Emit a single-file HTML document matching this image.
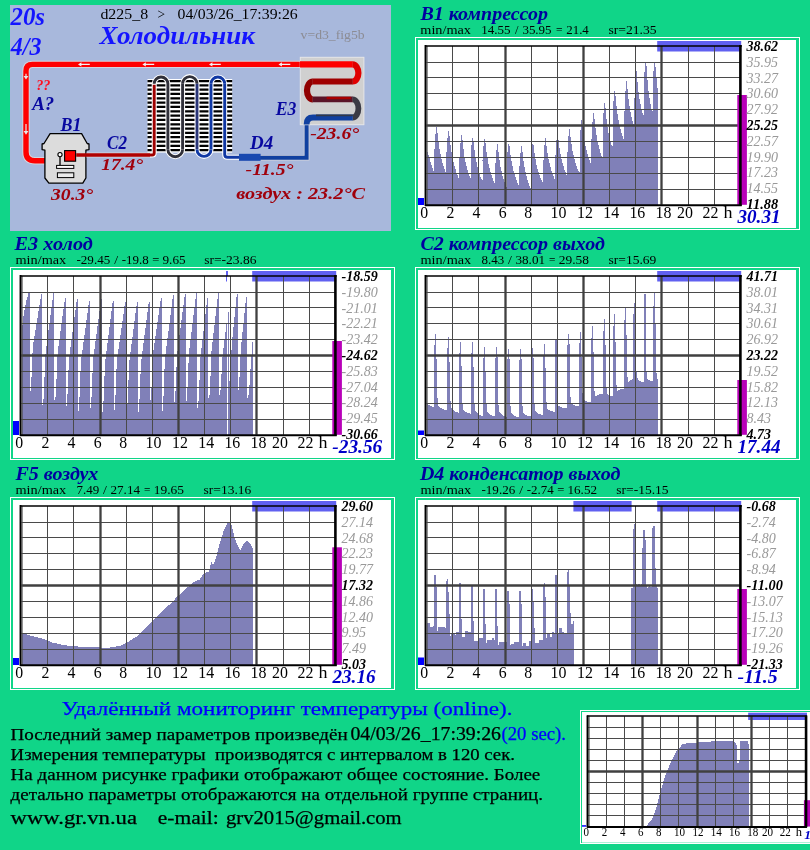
<!DOCTYPE html>
<html lang="ru"><head><meta charset="utf-8"><title>Холодильник</title>
<style>html,body{margin:0;padding:0;background:#10D588}body{width:810px;height:850px;overflow:hidden}svg{display:block;will-change:transform}text{font-family:"Liberation Serif",serif}</style></head><body>
<svg width="810" height="850" viewBox="0 0 810 850">
<rect width="810" height="850" fill="#10D588"/>
<rect x="10" y="5" width="381" height="226" fill="#A8B8DC"/>
<text x="10.5" y="25.0" font-size="25" fill="#1414FF" font-weight="bold" font-style="italic" textLength="34.5" lengthAdjust="spacingAndGlyphs" xml:space="preserve">20s</text>
<text x="10.8" y="54.6" font-size="25" fill="#1414FF" font-weight="bold" font-style="italic" textLength="30.7" lengthAdjust="spacingAndGlyphs" xml:space="preserve">4/3</text>
<text x="100.4" y="19.3" font-size="15" fill="#000" textLength="47.7" lengthAdjust="spacingAndGlyphs" xml:space="preserve">d225_8</text>
<text x="157.4" y="19.3" font-size="15" fill="#000" textLength="7.6" lengthAdjust="spacingAndGlyphs" xml:space="preserve">&gt;</text>
<text x="177.6" y="19.3" font-size="15" fill="#000" textLength="120.1" lengthAdjust="spacingAndGlyphs" xml:space="preserve">04/03/26_17:39:26</text>
<text x="99.5" y="44.4" font-size="26" fill="#1414FF" font-weight="bold" font-style="italic" textLength="155.5" lengthAdjust="spacingAndGlyphs" xml:space="preserve">Холодильник</text>
<text x="300.6" y="38.9" font-size="13" fill="#8c8c94" textLength="64.0" lengthAdjust="spacingAndGlyphs" xml:space="preserve">v=d3_fig5b</text>
<text x="36.2" y="90.0" font-size="15" fill="#FF1020" font-weight="bold" font-style="italic" textLength="14.3" lengthAdjust="spacingAndGlyphs" xml:space="preserve">??</text>
<text x="32.2" y="110.0" font-size="19" fill="#0808A0" font-weight="bold" font-style="italic" textLength="22.0" lengthAdjust="spacingAndGlyphs" xml:space="preserve">A?</text>
<text x="60.4" y="131.4" font-size="19" fill="#0808A0" font-weight="bold" font-style="italic" textLength="21.0" lengthAdjust="spacingAndGlyphs" xml:space="preserve">B1</text>
<text x="107.0" y="149.3" font-size="19" fill="#0808A0" font-weight="bold" font-style="italic" textLength="20.0" lengthAdjust="spacingAndGlyphs" xml:space="preserve">C2</text>
<text x="275.8" y="115.0" font-size="19" fill="#0808A0" font-weight="bold" font-style="italic" textLength="20.6" lengthAdjust="spacingAndGlyphs" xml:space="preserve">E3</text>
<text x="250.0" y="149.4" font-size="19" fill="#0808A0" font-weight="bold" font-style="italic" textLength="23.2" lengthAdjust="spacingAndGlyphs" xml:space="preserve">D4</text>
<text x="101.2" y="169.6" font-size="17.2" fill="#A0000C" font-weight="bold" font-style="italic" textLength="42.0" lengthAdjust="spacingAndGlyphs" xml:space="preserve">17.4°</text>
<text x="51.0" y="199.5" font-size="17.2" fill="#A0000C" font-weight="bold" font-style="italic" textLength="42.2" lengthAdjust="spacingAndGlyphs" xml:space="preserve">30.3°</text>
<text x="310.2" y="139.3" font-size="17.2" fill="#A0000C" font-weight="bold" font-style="italic" textLength="49.0" lengthAdjust="spacingAndGlyphs" xml:space="preserve">-23.6°</text>
<text x="245.6" y="174.6" font-size="17.2" fill="#A0000C" font-weight="bold" font-style="italic" textLength="47.8" lengthAdjust="spacingAndGlyphs" xml:space="preserve">-11.5°</text>
<text x="236.2" y="199.3" font-size="17.2" fill="#A0000C" font-weight="bold" font-style="italic" textLength="128.8" lengthAdjust="spacingAndGlyphs" xml:space="preserve">воздух : 23.2°C</text>
<path d="M300 64.4H32.5Q26 64.4 26 71V152Q26 160.7 35 160.7H46" fill="none" stroke="#d4d4dc" stroke-width="7.4" stroke-linejoin="round"/>
<path d="M300 64.4H32.5Q26 64.4 26 71V152Q26 160.7 35 160.7H46" fill="none" stroke="#FF0000" stroke-width="5.4" stroke-linejoin="round"/>
<path d="M78.0 64.4l3.4 -2.2v1.6h8.4v1.2h-8.4v1.6z" fill="#f4f4f4"/>
<path d="M142.4 64.4l3.4 -2.2v1.6h8.4v1.2h-8.4v1.6z" fill="#f4f4f4"/>
<path d="M209.0 64.4l3.4 -2.2v1.6h8.4v1.2h-8.4v1.6z" fill="#f4f4f4"/>
<path d="M278.5 64.4l3.4 -2.2v1.6h8.4v1.2h-8.4v1.6z" fill="#f4f4f4"/>
<path d="M26 79.5l-2.4 -3.6h1.8v-2.2h1.2v2.2h1.8z" fill="#e8e8e8"/>
<path d="M26 134.8l-2.4 -3.8h1.8v-7h1.2v7h1.8z" fill="#e8e8e8"/>
<path d="M50.1 133.6H81.6L87.2 143.5L89 144V149.6L85.9 150.2V178L82.8 183.2H48.9L44.9 178V150.2L42.1 149.6V144L44 143.5Z" fill="#DCDCDC" stroke="#000" stroke-width="1.3" stroke-linejoin="round"/>
<rect x="64.6" y="150.6" width="11" height="10.6" fill="#FF0000" stroke="#000" stroke-width="1.1"/>
<path d="M60 157V165.5" stroke="#000" stroke-width="1.3"/>
<circle cx="60" cy="154.6" r="2.1" fill="#fff" stroke="#000" stroke-width="1.1"/>
<rect x="56.6" y="165.4" width="17.2" height="3" fill="#fff" stroke="#000" stroke-width="1"/>
<rect x="57.4" y="172.8" width="16.4" height="4.8" fill="#ececec" stroke="#000" stroke-width="1"/>
<path d="M86.5 155H151" fill="none" stroke="#d4d4dc" stroke-width="5.2"/>
<path d="M76.2 155H151" fill="none" stroke="#B00000" stroke-width="3.4"/>
<rect x="147.5" y="79" width="84.7" height="73.6" fill="#fff"/>
<path d="M147.5 81.00H232.2M147.5 85.33H232.2M147.5 89.65H232.2M147.5 93.97H232.2M147.5 98.30H232.2M147.5 102.62H232.2M147.5 106.95H232.2M147.5 111.28H232.2M147.5 115.60H232.2M147.5 119.93H232.2M147.5 124.25H232.2M147.5 128.57H232.2M147.5 132.90H232.2M147.5 137.22H232.2M147.5 141.55H232.2M147.5 145.88H232.2M147.5 150.20H232.2" stroke="#000" stroke-width="2.25" fill="none"/>
<path d="M150 155H152.2Q154.2 155 154.2 153V83.8A6.85 6.85 0 0 1 167.9 83.8V149.4A7.35 7.35 0 0 0 182.6 149.4V83.8A7.20 7.20 0 0 1 197.0 83.8V149.4A7.00 7.00 0 0 0 211.0 149.4V83.8A6.85 6.85 0 0 1 224.7 83.8V149.4V154.5Q224.7 157.3 227.5 157.3H240" fill="none" stroke="#fff" stroke-width="5"/>
<path d="M150 155H152.2Q154.2 155 154.2 153V84.8" fill="none" stroke="#A00000" stroke-width="2.9"/>
<path d="M154.2 83.8A6.85 6.85 0 0 1 167.9 83.8V149.4" fill="none" stroke="#30303a" stroke-width="2.9"/>
<path d="M167.9 149.4A7.35 7.35 0 0 0 182.6 149.4" fill="none" stroke="#30303a" stroke-width="2.9"/>
<path d="M182.6 149.4V83.8" fill="none" stroke="#30303a" stroke-width="2.9"/>
<path d="M182.6 83.8A7.20 7.20 0 0 1 197.0 83.8" fill="none" stroke="#30303a" stroke-width="2.9"/>
<path d="M197.0 83.8V149.4" fill="none" stroke="#283478" stroke-width="2.9"/>
<path d="M197.0 149.4A7.00 7.00 0 0 0 211.0 149.4" fill="none" stroke="#1038A4" stroke-width="2.9"/>
<path d="M211.0 149.4V83.8" fill="none" stroke="#1038A4" stroke-width="2.9"/>
<path d="M211.0 83.8A6.85 6.85 0 0 1 224.7 83.8" fill="none" stroke="#1038A4" stroke-width="2.9"/>
<path d="M224.7 83.8V154.5Q224.7 157.3 227.5 157.3H240" fill="none" stroke="#1038A4" stroke-width="2.9"/>
<path d="M260 157.7H306.6V121" fill="none" stroke="#d4d4dc" stroke-width="5.6"/>
<path d="M259 157.7H306.6V121" fill="none" stroke="#1040A0" stroke-width="4"/>
<rect x="239" y="153.8" width="21.6" height="7" fill="#1848B0"/>
<rect x="300.3" y="57.3" width="63.6" height="67.4" fill="#D0D0D0" stroke="#e6e6e6" stroke-width="1"/>
<path d="M300 64.4H352.8" fill="none" stroke="#FF0000" stroke-width="6.2"/>
<path d="M352.6 64.4A5.80 8.55 0 0 1 352.6 81.5" fill="none" stroke="#E00000" stroke-width="6.2"/>
<path d="M352.8 81.5H312.6" fill="none" stroke="#A00000" stroke-width="6.2"/>
<path d="M312.8 81.5A5.80 8.95 0 0 0 312.8 99.4" fill="none" stroke="#900000" stroke-width="6.2"/>
<path d="M312.6 99.4H352.8" fill="none" stroke="#5a1428" stroke-width="5.6"/>
<path d="M326.6 98.0H350.8" fill="none" stroke="#A80000" stroke-width="2.4"/>
<path d="M352.6 99.4A5.80 9.05 0 0 1 352.6 117.5" fill="none" stroke="#3a3a44" stroke-width="5.8"/>
<path d="M352.8 117.5H313Q306.6 117.5 306.6 124.5" fill="none" stroke="#1040A0" stroke-width="5.8"/>
<path d="M352.8 115.3H316" fill="none" stroke="#303848" stroke-width="1.8"/>
<text x="420.4" y="20.1" font-size="18.5" fill="#0000A0" font-weight="bold" font-style="italic" textLength="127.6" lengthAdjust="spacingAndGlyphs"  xml:space="preserve">B1 компрессор</text>
<text x="420.3" y="33.8" font-size="13" fill="#000" textLength="50.7" lengthAdjust="spacingAndGlyphs"  xml:space="preserve">min/max</text>
<text x="481.3" y="33.8" font-size="13" fill="#000" textLength="29.3" lengthAdjust="spacingAndGlyphs"  xml:space="preserve">14.55</text>
<text x="515.0" y="33.8" font-size="13" fill="#000" textLength="3.5" lengthAdjust="spacingAndGlyphs"  xml:space="preserve">/</text>
<text x="522.4" y="33.8" font-size="13" fill="#000" textLength="29.2" lengthAdjust="spacingAndGlyphs"  xml:space="preserve">35.95</text>
<text x="556.0" y="33.8" font-size="13" fill="#000" textLength="6.5" lengthAdjust="spacingAndGlyphs"  xml:space="preserve">=</text>
<text x="566.3" y="33.8" font-size="13" fill="#000" textLength="22.5" lengthAdjust="spacingAndGlyphs"  xml:space="preserve">21.4</text>
<text x="608.4" y="33.8" font-size="13" fill="#000" textLength="48.1" lengthAdjust="spacingAndGlyphs"  xml:space="preserve">sr=21.35</text>
<text x="14.6" y="249.8" font-size="18.5" fill="#0000A0" font-weight="bold" font-style="italic" textLength="78.2" lengthAdjust="spacingAndGlyphs"  xml:space="preserve">E3 холод</text>
<text x="15.5" y="264.0" font-size="13" fill="#000" textLength="50.7" lengthAdjust="spacingAndGlyphs"  xml:space="preserve">min/max</text>
<text x="76.5" y="264.0" font-size="13" fill="#000" textLength="33.7" lengthAdjust="spacingAndGlyphs"  xml:space="preserve">-29.45</text>
<text x="114.3" y="264.0" font-size="13" fill="#000" textLength="3.9" lengthAdjust="spacingAndGlyphs"  xml:space="preserve">/</text>
<text x="121.7" y="264.0" font-size="13" fill="#000" textLength="27.0" lengthAdjust="spacingAndGlyphs"  xml:space="preserve">-19.8</text>
<text x="152.2" y="264.0" font-size="13" fill="#000" textLength="7.1" lengthAdjust="spacingAndGlyphs"  xml:space="preserve">=</text>
<text x="162.5" y="264.0" font-size="13" fill="#000" textLength="23.1" lengthAdjust="spacingAndGlyphs"  xml:space="preserve">9.65</text>
<text x="204.2" y="264.0" font-size="13" fill="#000" textLength="52.3" lengthAdjust="spacingAndGlyphs"  xml:space="preserve">sr=-23.86</text>
<text x="420.4" y="249.8" font-size="18.5" fill="#0000A0" font-weight="bold" font-style="italic" textLength="184.6" lengthAdjust="spacingAndGlyphs"  xml:space="preserve">C2 компрессор выход</text>
<text x="420.5" y="264.0" font-size="13" fill="#000" textLength="50.7" lengthAdjust="spacingAndGlyphs"  xml:space="preserve">min/max</text>
<text x="481.5" y="264.0" font-size="13" fill="#000" textLength="22.7" lengthAdjust="spacingAndGlyphs"  xml:space="preserve">8.43</text>
<text x="508.0" y="264.0" font-size="13" fill="#000" textLength="3.9" lengthAdjust="spacingAndGlyphs"  xml:space="preserve">/</text>
<text x="515.5" y="264.0" font-size="13" fill="#000" textLength="29.5" lengthAdjust="spacingAndGlyphs"  xml:space="preserve">38.01</text>
<text x="548.9" y="264.0" font-size="13" fill="#000" textLength="6.4" lengthAdjust="spacingAndGlyphs"  xml:space="preserve">=</text>
<text x="558.8" y="264.0" font-size="13" fill="#000" textLength="30.2" lengthAdjust="spacingAndGlyphs"  xml:space="preserve">29.58</text>
<text x="608.6" y="264.0" font-size="13" fill="#000" textLength="47.8" lengthAdjust="spacingAndGlyphs"  xml:space="preserve">sr=15.69</text>
<text x="15.4" y="479.8" font-size="18.5" fill="#0000A0" font-weight="bold" font-style="italic" textLength="82.9" lengthAdjust="spacingAndGlyphs"  xml:space="preserve">F5 воздух</text>
<text x="15.5" y="494.0" font-size="13" fill="#000" textLength="50.7" lengthAdjust="spacingAndGlyphs"  xml:space="preserve">min/max</text>
<text x="76.5" y="494.0" font-size="13" fill="#000" textLength="22.7" lengthAdjust="spacingAndGlyphs"  xml:space="preserve">7.49</text>
<text x="103.0" y="494.0" font-size="13" fill="#000" textLength="3.9" lengthAdjust="spacingAndGlyphs"  xml:space="preserve">/</text>
<text x="110.5" y="494.0" font-size="13" fill="#000" textLength="29.5" lengthAdjust="spacingAndGlyphs"  xml:space="preserve">27.14</text>
<text x="143.9" y="494.0" font-size="13" fill="#000" textLength="6.4" lengthAdjust="spacingAndGlyphs"  xml:space="preserve">=</text>
<text x="153.8" y="494.0" font-size="13" fill="#000" textLength="30.2" lengthAdjust="spacingAndGlyphs"  xml:space="preserve">19.65</text>
<text x="203.6" y="494.0" font-size="13" fill="#000" textLength="47.8" lengthAdjust="spacingAndGlyphs"  xml:space="preserve">sr=13.16</text>
<text x="419.9" y="479.8" font-size="18.5" fill="#0000A0" font-weight="bold" font-style="italic" textLength="200.6" lengthAdjust="spacingAndGlyphs"  xml:space="preserve">D4 конденсатор выход</text>
<text x="420.5" y="494.0" font-size="13" fill="#000" textLength="50.7" lengthAdjust="spacingAndGlyphs"  xml:space="preserve">min/max</text>
<text x="481.5" y="494.0" font-size="13" fill="#000" textLength="33.7" lengthAdjust="spacingAndGlyphs"  xml:space="preserve">-19.26</text>
<text x="519.3" y="494.0" font-size="13" fill="#000" textLength="3.9" lengthAdjust="spacingAndGlyphs"  xml:space="preserve">/</text>
<text x="526.7" y="494.0" font-size="13" fill="#000" textLength="27.0" lengthAdjust="spacingAndGlyphs"  xml:space="preserve">-2.74</text>
<text x="557.2" y="494.0" font-size="13" fill="#000" textLength="7.1" lengthAdjust="spacingAndGlyphs"  xml:space="preserve">=</text>
<text x="567.5" y="494.0" font-size="13" fill="#000" textLength="29.5" lengthAdjust="spacingAndGlyphs"  xml:space="preserve">16.52</text>
<text x="616.3" y="494.0" font-size="13" fill="#000" textLength="52.3" lengthAdjust="spacingAndGlyphs"  xml:space="preserve">sr=-15.15</text>
<g transform="translate(418,40)">
<rect x="-2.5" y="-2.5" width="384" height="192" fill="none" stroke="#fff" stroke-width="1"/>
<rect x="0" y="0" width="378" height="188" fill="#fff"/>
<rect x="239.2" y="1" width="84.0" height="10.5" fill="#6060F0"/>
<polygon points="9.0,164.8 9.0,110.0 12.0,120.0 15.6,131.0 16.2,131.0 16.2,109.8 17.0,108.0 17.0,95.6 17.8,93.4 17.8,86.8 18.9,86.8 20.0,97.7 21.6,109.6 23.3,118.2 25.6,126.4 27.8,132.3 28.4,132.3 28.4,112.3 29.1,110.6 29.1,98.9 29.9,96.9 29.9,90.6 31.0,90.6 32.2,102.2 33.9,114.7 35.9,123.9 38.4,132.5 40.8,138.8 41.4,138.8 41.4,117.9 42.1,116.1 42.1,103.9 42.9,101.7 42.9,95.2 44.0,95.2 45.0,105.4 46.4,116.4 48.0,124.5 50.0,132.1 52.0,137.6 52.6,137.6 52.6,118.5 53.3,117.0 53.3,105.8 54.1,103.9 54.1,97.9 55.2,97.9 56.2,108.1 57.8,119.1 59.5,127.2 61.7,134.8 63.9,140.3 64.5,140.3 64.5,120.5 65.2,118.8 65.2,107.3 66.0,105.2 66.0,99.0 67.1,99.0 68.2,109.6 69.9,121.0 71.8,129.4 74.1,137.3 76.5,143.0 77.1,143.0 77.1,124.1 77.8,122.5 77.8,111.5 78.6,109.5 78.6,103.6 79.7,103.6 80.7,113.9 82.2,125.1 83.9,133.3 86.0,141.0 88.1,146.6 88.7,146.6 88.7,126.2 89.4,124.4 89.4,112.5 90.2,110.4 90.2,104.0 91.3,104.0 92.4,114.0 94.1,124.8 96.0,132.6 98.4,140.1 100.7,145.5 101.3,145.5 101.3,126.6 102.0,125.0 102.0,114.0 102.8,112.0 102.8,106.1 103.9,106.1 104.9,116.1 106.4,126.8 108.1,134.7 110.1,142.2 112.2,147.6 112.8,147.6 112.8,126.5 113.5,124.7 113.5,112.4 114.3,110.2 114.3,103.6 115.4,103.6 116.5,112.9 118.1,123.0 119.9,130.4 122.2,137.4 124.4,142.4 125.0,142.4 125.0,121.0 125.7,119.3 125.7,106.8 126.5,104.6 126.5,97.9 127.6,97.9 128.7,107.7 130.3,118.2 132.1,126.0 134.3,133.3 136.5,138.6 137.1,138.6 137.1,116.6 137.8,114.7 137.8,101.9 138.6,99.6 138.6,92.7 139.7,92.7 140.8,102.8 142.3,113.6 144.1,121.6 146.3,129.2 148.5,134.6 149.1,134.6 149.1,112.9 149.8,111.0 149.8,98.4 150.6,96.1 150.6,89.3 151.7,89.3 152.8,99.5 154.5,110.7 156.3,118.8 158.6,126.4 160.9,132.0 161.5,132.0 161.5,107.2 162.2,105.2 162.2,90.7 163.0,88.1 163.0,80.4 164.1,80.4 165.1,90.7 166.7,101.9 168.5,110.0 170.6,117.7 172.8,123.3 173.4,123.3 173.4,99.1 174.1,97.1 174.1,83.0 174.9,80.5 174.9,72.9 176.0,72.9 176.9,83.4 178.4,94.8 180.0,103.1 181.9,111.0 183.9,116.7 184.5,116.7 184.5,90.9 185.2,88.7 185.2,73.7 186.0,71.0 186.0,62.9 187.1,62.9 187.9,73.3 189.1,84.5 190.5,92.8 192.2,100.6 193.9,106.2 194.5,106.2 194.5,79.8 195.2,77.5 195.2,62.1 196.0,59.4 196.0,51.1 197.1,51.1 198.1,62.8 199.7,75.5 201.4,84.8 203.6,93.6 205.7,100.0 206.3,100.0 206.3,71.5 207.0,69.2 207.0,52.6 207.8,49.6 207.8,40.7 208.9,40.7 209.7,51.2 210.9,62.6 212.2,70.9 213.9,78.7 215.5,84.4 216.1,84.4 216.1,58.8 216.8,56.7 216.8,41.8 217.6,39.1 217.6,31.1 218.7,31.1 219.5,41.7 220.6,53.1 221.9,61.5 223.5,69.4 225.1,75.1 225.7,75.1 225.7,49.7 226.4,47.6 226.4,32.8 227.2,30.1 227.2,22.2 228.3,22.2 229.0,33.8 230.0,46.5 231.1,55.7 232.5,64.4 233.9,70.7 234.5,70.7 234.5,47.4 235.2,45.5 235.2,31.9 236.0,29.5 236.0,22.2 237.1,22.2 240.2,55.0 240.2,164.8" fill="#8080B8" shape-rendering="crispEdges"/>
<path d="M34.50 6.0V164.8M60.50 6.0V164.8M113.50 6.0V164.8M139.50 6.0V164.8M191.50 6.0V164.8M217.50 6.0V164.8M270.50 6.0V164.8M296.50 6.0V164.8M8.5 22.50H323.0M8.5 37.50H323.0M8.5 53.50H323.0M8.5 69.50H323.0M8.5 101.50H323.0M8.5 117.50H323.0M8.5 133.50H323.0M8.5 149.50H323.0" stroke="#4a4a4a" stroke-width="1.00" fill="none"/>
<path d="M87.50 6.0V164.8M165.50 6.0V164.8M243.50 6.0V164.8M8.5 85.50H323.0" stroke="#404040" stroke-width="2.30" fill="none"/>
<path d="M9.05 6.0V164.8" stroke="#4a4a4a" stroke-width="1.10"/>
<rect x="319.3" y="55.0" width="9.6" height="109.8" fill="#B800B8"/>
<path d="M7.50 5.0V165.8" stroke="#000" stroke-width="1.90"/>
<path d="M322.4 5.0V165.8" stroke="#000" stroke-width="2.60"/>
<path d="M7 5.9H323.7" stroke="#000" stroke-width="1.50"/>
<path d="M7 165.3H323.7" stroke="#000" stroke-width="2.00"/>
<rect x="0" y="158.0" width="6" height="7.0" fill="#0000FF"/>
<text x="2.2" y="178.0" font-size="15.8" fill="#000" textLength="7.9" lengthAdjust="spacingAndGlyphs"  xml:space="preserve">0</text>
<text x="28.4" y="178.0" font-size="15.8" fill="#000" textLength="7.9" lengthAdjust="spacingAndGlyphs"  xml:space="preserve">2</text>
<text x="54.5" y="178.0" font-size="15.8" fill="#000" textLength="7.9" lengthAdjust="spacingAndGlyphs"  xml:space="preserve">4</text>
<text x="80.7" y="178.0" font-size="15.8" fill="#000" textLength="7.9" lengthAdjust="spacingAndGlyphs"  xml:space="preserve">6</text>
<text x="106.3" y="178.0" font-size="15.8" fill="#000" textLength="7.9" lengthAdjust="spacingAndGlyphs"  xml:space="preserve">8</text>
<text x="132.5" y="178.0" font-size="15.8" fill="#000" textLength="15.9" lengthAdjust="spacingAndGlyphs"  xml:space="preserve">10</text>
<text x="159.1" y="178.0" font-size="15.8" fill="#000" textLength="15.9" lengthAdjust="spacingAndGlyphs"  xml:space="preserve">12</text>
<text x="185.3" y="178.0" font-size="15.8" fill="#000" textLength="15.9" lengthAdjust="spacingAndGlyphs"  xml:space="preserve">14</text>
<text x="211.4" y="178.0" font-size="15.8" fill="#000" textLength="15.9" lengthAdjust="spacingAndGlyphs"  xml:space="preserve">16</text>
<text x="237.6" y="178.0" font-size="15.8" fill="#000" textLength="15.9" lengthAdjust="spacingAndGlyphs"  xml:space="preserve">18</text>
<text x="259.1" y="178.0" font-size="15.8" fill="#000" textLength="15.9" lengthAdjust="spacingAndGlyphs"  xml:space="preserve">20</text>
<text x="284.6" y="178.0" font-size="15.8" fill="#000" textLength="15.9" lengthAdjust="spacingAndGlyphs"  xml:space="preserve">22</text>
<text x="305.6" y="178.0" font-size="15.8" fill="#000" textLength="9.0" lengthAdjust="spacingAndGlyphs"  xml:space="preserve">h</text>
<text x="328.6" y="11.0" font-size="14" fill="#000" font-weight="bold" font-style="italic" textLength="31.5" lengthAdjust="spacingAndGlyphs"  xml:space="preserve">38.62</text>
<text x="328.6" y="26.8" font-size="14" fill="#999" font-style="italic" textLength="31.5" lengthAdjust="spacingAndGlyphs"  xml:space="preserve">35.95</text>
<text x="328.6" y="42.6" font-size="14" fill="#999" font-style="italic" textLength="31.5" lengthAdjust="spacingAndGlyphs"  xml:space="preserve">33.27</text>
<text x="328.6" y="58.4" font-size="14" fill="#999" font-style="italic" textLength="31.5" lengthAdjust="spacingAndGlyphs"  xml:space="preserve">30.60</text>
<text x="328.6" y="74.2" font-size="14" fill="#999" font-style="italic" textLength="31.5" lengthAdjust="spacingAndGlyphs"  xml:space="preserve">27.92</text>
<text x="328.6" y="90.0" font-size="14" fill="#000" font-weight="bold" font-style="italic" textLength="31.5" lengthAdjust="spacingAndGlyphs"  xml:space="preserve">25.25</text>
<text x="328.6" y="105.8" font-size="14" fill="#999" font-style="italic" textLength="31.5" lengthAdjust="spacingAndGlyphs"  xml:space="preserve">22.57</text>
<text x="328.6" y="121.6" font-size="14" fill="#999" font-style="italic" textLength="31.5" lengthAdjust="spacingAndGlyphs"  xml:space="preserve">19.90</text>
<text x="328.6" y="137.4" font-size="14" fill="#999" font-style="italic" textLength="31.5" lengthAdjust="spacingAndGlyphs"  xml:space="preserve">17.23</text>
<text x="328.6" y="153.2" font-size="14" fill="#999" font-style="italic" textLength="31.5" lengthAdjust="spacingAndGlyphs"  xml:space="preserve">14.55</text>
<text x="328.6" y="169.0" font-size="14" fill="#000" font-weight="bold" font-style="italic" textLength="31.5" lengthAdjust="spacingAndGlyphs"  xml:space="preserve">11.88</text>
<text x="319.5" y="183.0" font-size="18" fill="#0000C8" font-weight="bold" font-style="italic" textLength="43.0" lengthAdjust="spacingAndGlyphs"  xml:space="preserve">30.31</text>
</g>
<g transform="translate(13,270)">
<rect x="-2.5" y="-2.5" width="384" height="192" fill="none" stroke="#fff" stroke-width="1"/>
<rect x="0" y="0" width="378" height="188" fill="#fff"/>
<rect x="239.2" y="1" width="84.0" height="10.5" fill="#6060F0"/>
<rect x="213.0" y="1.0" width="2" height="10.5" fill="#6060F0"/>
<polygon points="9.0,164.8 9.0,60.0 10.5,46.0 13.0,32.0 15.6,22.7 16.7,22.7 16.7,120.7 17.7,120.7 18.1,111.0 18.7,105.2 19.1,89.8 19.9,76.3 28.3,24.1 29.3,24.1 29.3,135.4 30.3,135.4 30.7,124.1 31.3,117.4 31.7,99.3 32.5,83.6 40.4,22.7 41.4,22.7 41.4,130.0 42.4,130.0 42.8,119.8 43.4,113.7 43.8,97.3 44.6,83.0 52.0,27.9 53.0,27.9 53.0,136.4 54.0,136.4 54.4,125.7 55.0,119.3 55.4,102.2 56.2,87.2 63.9,29.4 64.9,29.4 64.9,140.6 65.9,140.6 66.3,129.6 66.9,123.1 67.3,105.5 68.1,90.2 76.1,31.0 77.1,31.0 77.1,137.5 78.1,137.5 78.5,126.7 79.1,120.2 79.5,102.9 80.3,87.8 88.1,29.4 89.1,29.4 89.1,141.7 90.1,141.7 90.5,130.6 91.1,124.0 91.5,106.3 92.3,90.8 99.8,31.0 100.8,31.0 100.8,139.6 101.8,139.6 102.2,128.8 102.8,122.3 103.2,105.0 104.0,89.9 112.2,31.5 113.2,31.5 113.2,141.0 114.2,141.0 114.6,130.1 115.2,123.5 115.6,106.1 116.4,90.8 124.0,31.9 125.0,31.9 125.0,141.7 126.0,141.7 126.4,130.7 127.0,124.1 127.4,106.4 128.2,91.0 135.9,31.5 136.9,31.5 136.9,130.0 137.9,130.0 138.3,119.8 138.9,113.7 139.3,97.3 140.1,83.0 147.9,27.9 148.9,27.9 148.9,140.6 149.9,140.6 150.3,129.0 150.9,122.1 151.3,103.5 152.1,87.3 160.1,24.8 161.1,24.8 161.1,132.2 162.1,132.2 162.5,121.4 163.1,114.9 163.5,97.6 164.3,82.5 171.9,24.1 172.9,24.1 172.9,131.2 173.9,131.2 174.3,120.3 174.9,113.8 175.3,96.5 176.1,81.3 183.3,22.7 184.3,22.7 184.3,137.5 185.3,137.5 185.7,126.5 186.3,120.0 186.7,102.4 187.5,87.1 194.4,27.9 195.4,27.9 195.4,128.0 196.4,128.0 196.8,117.5 197.4,111.2 197.8,94.3 198.6,79.6 205.3,22.7 206.3,22.7 206.3,124.9 207.3,124.9 207.7,116.6 208.3,111.6 208.7,98.4 209.5,86.8 214.9,42.0 215.9,42.0 215.9,111.0 216.9,111.0 217.3,102.3 217.9,97.1 218.3,83.2 219.1,71.0 223.8,24.1 224.8,24.1 224.8,119.6 225.8,119.6 226.2,110.3 226.8,104.8 227.2,89.9 228.0,77.0 233.2,26.9 234.2,26.9 234.2,128.0 235.2,128.0 235.8,122.0 236.4,118.0 236.8,108.0 237.6,98.0 239.6,71.0 240.3,71.0 240.3,164.8" fill="#8080B8" shape-rendering="crispEdges"/>
<rect x="214.0" y="6.0" width="1" height="158.8" fill="#fff"/>
<path d="M34.50 6.0V164.8M60.50 6.0V164.8M113.50 6.0V164.8M139.50 6.0V164.8M191.50 6.0V164.8M217.50 6.0V164.8M270.50 6.0V164.8M296.50 6.0V164.8M8.5 22.50H323.0M8.5 37.50H323.0M8.5 53.50H323.0M8.5 69.50H323.0M8.5 101.50H323.0M8.5 117.50H323.0M8.5 133.50H323.0M8.5 149.50H323.0" stroke="#4a4a4a" stroke-width="1.00" fill="none"/>
<path d="M87.50 6.0V164.8M165.50 6.0V164.8M243.50 6.0V164.8M8.5 85.50H323.0" stroke="#404040" stroke-width="2.30" fill="none"/>
<path d="M9.05 6.0V164.8" stroke="#4a4a4a" stroke-width="1.10"/>
<rect x="319.3" y="71.0" width="9.6" height="93.8" fill="#B800B8"/>
<path d="M7.50 5.0V165.8" stroke="#000" stroke-width="1.90"/>
<path d="M322.4 5.0V165.8" stroke="#000" stroke-width="2.60"/>
<path d="M7 5.9H323.7" stroke="#000" stroke-width="1.50"/>
<path d="M7 165.3H323.7" stroke="#000" stroke-width="2.00"/>
<rect x="0" y="151.0" width="6" height="14.0" fill="#0000FF"/>
<text x="2.2" y="178.0" font-size="15.8" fill="#000" textLength="7.9" lengthAdjust="spacingAndGlyphs"  xml:space="preserve">0</text>
<text x="28.4" y="178.0" font-size="15.8" fill="#000" textLength="7.9" lengthAdjust="spacingAndGlyphs"  xml:space="preserve">2</text>
<text x="54.5" y="178.0" font-size="15.8" fill="#000" textLength="7.9" lengthAdjust="spacingAndGlyphs"  xml:space="preserve">4</text>
<text x="80.7" y="178.0" font-size="15.8" fill="#000" textLength="7.9" lengthAdjust="spacingAndGlyphs"  xml:space="preserve">6</text>
<text x="106.3" y="178.0" font-size="15.8" fill="#000" textLength="7.9" lengthAdjust="spacingAndGlyphs"  xml:space="preserve">8</text>
<text x="132.5" y="178.0" font-size="15.8" fill="#000" textLength="15.9" lengthAdjust="spacingAndGlyphs"  xml:space="preserve">10</text>
<text x="159.1" y="178.0" font-size="15.8" fill="#000" textLength="15.9" lengthAdjust="spacingAndGlyphs"  xml:space="preserve">12</text>
<text x="185.3" y="178.0" font-size="15.8" fill="#000" textLength="15.9" lengthAdjust="spacingAndGlyphs"  xml:space="preserve">14</text>
<text x="211.4" y="178.0" font-size="15.8" fill="#000" textLength="15.9" lengthAdjust="spacingAndGlyphs"  xml:space="preserve">16</text>
<text x="237.6" y="178.0" font-size="15.8" fill="#000" textLength="15.9" lengthAdjust="spacingAndGlyphs"  xml:space="preserve">18</text>
<text x="259.1" y="178.0" font-size="15.8" fill="#000" textLength="15.9" lengthAdjust="spacingAndGlyphs"  xml:space="preserve">20</text>
<text x="284.6" y="178.0" font-size="15.8" fill="#000" textLength="15.9" lengthAdjust="spacingAndGlyphs"  xml:space="preserve">22</text>
<text x="305.6" y="178.0" font-size="15.8" fill="#000" textLength="9.0" lengthAdjust="spacingAndGlyphs"  xml:space="preserve">h</text>
<text x="328.6" y="11.0" font-size="14" fill="#000" font-weight="bold" font-style="italic" textLength="36.2" lengthAdjust="spacingAndGlyphs"  xml:space="preserve">-18.59</text>
<text x="328.6" y="26.8" font-size="14" fill="#999" font-style="italic" textLength="36.2" lengthAdjust="spacingAndGlyphs"  xml:space="preserve">-19.80</text>
<text x="328.6" y="42.6" font-size="14" fill="#999" font-style="italic" textLength="36.2" lengthAdjust="spacingAndGlyphs"  xml:space="preserve">-21.01</text>
<text x="328.6" y="58.4" font-size="14" fill="#999" font-style="italic" textLength="36.2" lengthAdjust="spacingAndGlyphs"  xml:space="preserve">-22.21</text>
<text x="328.6" y="74.2" font-size="14" fill="#999" font-style="italic" textLength="36.2" lengthAdjust="spacingAndGlyphs"  xml:space="preserve">-23.42</text>
<text x="328.6" y="90.0" font-size="14" fill="#000" font-weight="bold" font-style="italic" textLength="36.2" lengthAdjust="spacingAndGlyphs"  xml:space="preserve">-24.62</text>
<text x="328.6" y="105.8" font-size="14" fill="#999" font-style="italic" textLength="36.2" lengthAdjust="spacingAndGlyphs"  xml:space="preserve">-25.83</text>
<text x="328.6" y="121.6" font-size="14" fill="#999" font-style="italic" textLength="36.2" lengthAdjust="spacingAndGlyphs"  xml:space="preserve">-27.04</text>
<text x="328.6" y="137.4" font-size="14" fill="#999" font-style="italic" textLength="36.2" lengthAdjust="spacingAndGlyphs"  xml:space="preserve">-28.24</text>
<text x="328.6" y="153.2" font-size="14" fill="#999" font-style="italic" textLength="36.2" lengthAdjust="spacingAndGlyphs"  xml:space="preserve">-29.45</text>
<text x="328.6" y="169.0" font-size="14" fill="#000" font-weight="bold" font-style="italic" textLength="36.2" lengthAdjust="spacingAndGlyphs"  xml:space="preserve">-30.66</text>
<text x="319.3" y="183.0" font-size="18" fill="#0000C8" font-weight="bold" font-style="italic" textLength="50.0" lengthAdjust="spacingAndGlyphs"  xml:space="preserve">-23.56</text>
</g>
<g transform="translate(418,270)">
<rect x="-2.5" y="-2.5" width="384" height="192" fill="none" stroke="#fff" stroke-width="1"/>
<rect x="0" y="0" width="378" height="188" fill="#fff"/>
<rect x="239.2" y="1" width="84.0" height="10.5" fill="#6060F0"/>
<polygon points="9.0,164.8 9.0,134.0 15.9,137.5 15.9,75.0 16.7,75.0 16.7,64.0 17.9,64.0 17.9,74.3 18.2,74.3 18.2,89.0 18.7,89.0 18.7,127.5 19.6,128.5 19.6,134.5 21.9,137.1 24.2,138.9 26.6,139.8 28.9,140.3 28.9,78.2 29.7,78.2 29.7,67.2 30.9,67.2 30.9,77.4 31.2,77.4 31.2,92.1 31.7,92.1 31.7,130.0 32.6,131.0 32.6,137.0 34.7,139.5 36.8,141.2 38.8,142.2 40.9,142.6 40.9,82.9 41.7,82.9 41.7,72.4 42.9,72.4 42.9,82.2 43.2,82.2 43.2,96.3 43.7,96.3 43.7,132.0 44.6,133.0 44.6,139.0 46.7,141.2 48.9,142.6 51.0,143.4 53.1,143.8 53.1,83.1 53.9,83.1 53.9,72.4 55.1,72.4 55.1,82.4 55.4,82.4 55.4,96.7 55.9,96.7 55.9,132.5 56.8,133.5 56.8,139.5 58.8,142.4 60.9,144.4 62.9,145.5 65.0,146.0 65.0,87.5 65.8,87.5 65.8,77.2 67.0,77.2 67.0,86.8 67.3,86.8 67.3,100.6 67.8,100.6 67.8,133.5 68.7,134.5 68.7,140.5 70.8,143.2 72.9,145.0 75.1,146.0 77.2,146.5 77.2,87.6 78.0,87.6 78.0,77.2 79.2,77.2 79.2,86.9 79.5,86.9 79.5,100.8 80.0,100.8 80.0,134.5 80.9,135.5 80.9,141.5 83.0,143.9 85.1,145.5 87.1,146.5 89.2,146.9 89.2,89.4 90.0,89.4 90.0,79.3 91.2,79.3 91.2,88.8 91.5,88.8 91.5,102.3 92.0,102.3 92.0,135.0 92.9,136.0 92.9,142.0 95.0,144.5 97.1,146.1 99.2,147.1 101.3,147.5 101.3,89.5 102.1,89.5 102.1,79.3 103.3,79.3 103.3,88.8 103.6,88.8 103.6,102.5 104.1,102.5 104.1,135.5 105.0,136.5 105.0,142.5 107.1,144.3 109.2,145.5 111.2,146.2 113.3,146.5 113.3,88.3 114.1,88.3 114.1,78.0 115.3,78.0 115.3,87.6 115.6,87.6 115.6,101.3 116.1,101.3 116.1,134.0 117.0,135.0 117.0,141.0 119.0,142.7 121.0,143.9 123.0,144.5 125.0,144.8 125.0,84.5 125.8,84.5 125.8,73.9 127.0,73.9 127.0,83.8 127.3,83.8 127.3,98.0 127.8,98.0 127.8,131.0 128.7,132.0 128.7,138.0 130.7,139.7 132.6,140.8 134.6,141.4 136.6,141.7 136.6,80.7 137.4,80.7 137.4,69.9 138.6,69.9 138.6,80.0 138.9,80.0 138.9,94.3 139.4,94.3 139.4,128.5 140.3,129.5 140.3,135.5 142.5,136.9 144.8,137.8 147.0,138.3 149.2,138.5 149.2,75.2 150.0,75.2 150.0,64.0 151.2,64.0 151.2,74.4 151.5,74.4 151.5,89.3 152.0,89.3 152.0,126.0 152.9,127.0 152.9,133.0 154.9,134.5 157.0,135.5 159.0,136.1 161.0,136.4 161.0,73.1 161.8,73.1 161.8,61.9 163.0,61.9 163.0,72.3 163.3,72.3 163.3,87.2 163.8,87.2 163.8,122.0 164.7,123.0 164.7,129.0 166.7,130.4 168.8,131.4 170.8,131.9 172.8,132.2 172.8,67.6 173.6,67.6 173.6,56.2 174.8,56.2 174.8,66.8 175.1,66.8 175.1,82.0 175.6,82.0 175.6,120.0 176.5,121.0 176.5,127.0 178.6,125.6 180.8,124.6 182.9,124.1 185.0,123.8 185.0,60.5 185.8,60.5 185.8,49.3 187.0,49.3 187.0,59.7 187.3,59.7 187.3,74.6 187.8,74.6 187.8,117.0 188.7,118.0 188.7,124.0 190.3,124.9 191.9,125.5 193.5,125.8 195.1,126.0 195.1,56.3 195.9,56.3 195.9,44.0 197.1,44.0 197.1,55.5 197.4,55.5 197.4,71.9 197.9,71.9 197.9,114.0 198.8,115.0 198.8,121.0 200.6,119.9 202.4,119.2 204.2,118.8 206.0,118.6 206.0,49.6 206.8,49.6 206.8,37.4 208.0,37.4 208.0,48.8 208.3,48.8 208.3,65.0 208.8,65.0 208.8,106.0 209.7,107.0 209.7,113.0 211.1,111.2 212.5,110.0 214.0,109.3 215.4,109.0 215.4,44.0 216.2,44.0 216.2,32.5 217.4,32.5 217.4,43.2 217.7,43.2 217.7,58.5 218.2,58.5 218.2,101.0 219.1,102.0 219.1,108.0 220.7,109.9 222.3,111.2 223.9,112.0 225.5,112.3 225.5,37.3 226.3,37.3 226.3,24.1 227.5,24.1 227.5,36.4 227.8,36.4 227.8,54.1 228.3,54.1 228.3,102.0 229.2,103.0 229.2,109.0 230.6,110.0 232.0,110.6 233.5,111.0 234.9,111.2 234.9,36.2 235.7,36.2 235.7,23.0 236.9,23.0 236.9,35.3 237.2,35.3 237.2,53.0 237.7,53.0 237.7,102.0 238.6,103.0 238.6,109.0 240.3,109.0 240.3,164.8" fill="#8080B8" shape-rendering="crispEdges"/>
<path d="M34.50 6.0V164.8M60.50 6.0V164.8M113.50 6.0V164.8M139.50 6.0V164.8M191.50 6.0V164.8M217.50 6.0V164.8M270.50 6.0V164.8M296.50 6.0V164.8M8.5 22.50H323.0M8.5 37.50H323.0M8.5 53.50H323.0M8.5 69.50H323.0M8.5 101.50H323.0M8.5 117.50H323.0M8.5 133.50H323.0M8.5 149.50H323.0" stroke="#4a4a4a" stroke-width="1.00" fill="none"/>
<path d="M87.50 6.0V164.8M165.50 6.0V164.8M243.50 6.0V164.8M8.5 85.50H323.0" stroke="#404040" stroke-width="2.30" fill="none"/>
<path d="M9.05 6.0V164.8" stroke="#4a4a4a" stroke-width="1.10"/>
<rect x="319.3" y="110.0" width="9.6" height="54.8" fill="#B800B8"/>
<path d="M7.50 5.0V165.8" stroke="#000" stroke-width="1.90"/>
<path d="M322.4 5.0V165.8" stroke="#000" stroke-width="2.60"/>
<path d="M7 5.9H323.7" stroke="#000" stroke-width="1.50"/>
<path d="M7 165.3H323.7" stroke="#000" stroke-width="2.00"/>
<rect x="0" y="160.5" width="6" height="4.5" fill="#0000FF"/>
<text x="2.2" y="178.0" font-size="15.8" fill="#000" textLength="7.9" lengthAdjust="spacingAndGlyphs"  xml:space="preserve">0</text>
<text x="28.4" y="178.0" font-size="15.8" fill="#000" textLength="7.9" lengthAdjust="spacingAndGlyphs"  xml:space="preserve">2</text>
<text x="54.5" y="178.0" font-size="15.8" fill="#000" textLength="7.9" lengthAdjust="spacingAndGlyphs"  xml:space="preserve">4</text>
<text x="80.7" y="178.0" font-size="15.8" fill="#000" textLength="7.9" lengthAdjust="spacingAndGlyphs"  xml:space="preserve">6</text>
<text x="106.3" y="178.0" font-size="15.8" fill="#000" textLength="7.9" lengthAdjust="spacingAndGlyphs"  xml:space="preserve">8</text>
<text x="132.5" y="178.0" font-size="15.8" fill="#000" textLength="15.9" lengthAdjust="spacingAndGlyphs"  xml:space="preserve">10</text>
<text x="159.1" y="178.0" font-size="15.8" fill="#000" textLength="15.9" lengthAdjust="spacingAndGlyphs"  xml:space="preserve">12</text>
<text x="185.3" y="178.0" font-size="15.8" fill="#000" textLength="15.9" lengthAdjust="spacingAndGlyphs"  xml:space="preserve">14</text>
<text x="211.4" y="178.0" font-size="15.8" fill="#000" textLength="15.9" lengthAdjust="spacingAndGlyphs"  xml:space="preserve">16</text>
<text x="237.6" y="178.0" font-size="15.8" fill="#000" textLength="15.9" lengthAdjust="spacingAndGlyphs"  xml:space="preserve">18</text>
<text x="259.1" y="178.0" font-size="15.8" fill="#000" textLength="15.9" lengthAdjust="spacingAndGlyphs"  xml:space="preserve">20</text>
<text x="284.6" y="178.0" font-size="15.8" fill="#000" textLength="15.9" lengthAdjust="spacingAndGlyphs"  xml:space="preserve">22</text>
<text x="305.6" y="178.0" font-size="15.8" fill="#000" textLength="9.0" lengthAdjust="spacingAndGlyphs"  xml:space="preserve">h</text>
<text x="328.6" y="11.0" font-size="14" fill="#000" font-weight="bold" font-style="italic" textLength="31.5" lengthAdjust="spacingAndGlyphs"  xml:space="preserve">41.71</text>
<text x="328.6" y="26.8" font-size="14" fill="#999" font-style="italic" textLength="31.5" lengthAdjust="spacingAndGlyphs"  xml:space="preserve">38.01</text>
<text x="328.6" y="42.6" font-size="14" fill="#999" font-style="italic" textLength="31.5" lengthAdjust="spacingAndGlyphs"  xml:space="preserve">34.31</text>
<text x="328.6" y="58.4" font-size="14" fill="#999" font-style="italic" textLength="31.5" lengthAdjust="spacingAndGlyphs"  xml:space="preserve">30.61</text>
<text x="328.6" y="74.2" font-size="14" fill="#999" font-style="italic" textLength="31.5" lengthAdjust="spacingAndGlyphs"  xml:space="preserve">26.92</text>
<text x="328.6" y="90.0" font-size="14" fill="#000" font-weight="bold" font-style="italic" textLength="31.5" lengthAdjust="spacingAndGlyphs"  xml:space="preserve">23.22</text>
<text x="328.6" y="105.8" font-size="14" fill="#999" font-style="italic" textLength="31.5" lengthAdjust="spacingAndGlyphs"  xml:space="preserve">19.52</text>
<text x="328.6" y="121.6" font-size="14" fill="#999" font-style="italic" textLength="31.5" lengthAdjust="spacingAndGlyphs"  xml:space="preserve">15.82</text>
<text x="328.6" y="137.4" font-size="14" fill="#999" font-style="italic" textLength="31.5" lengthAdjust="spacingAndGlyphs"  xml:space="preserve">12.13</text>
<text x="328.6" y="153.2" font-size="14" fill="#999" font-style="italic" textLength="24.5" lengthAdjust="spacingAndGlyphs"  xml:space="preserve">8.43</text>
<text x="328.6" y="169.0" font-size="14" fill="#000" font-weight="bold" font-style="italic" textLength="24.5" lengthAdjust="spacingAndGlyphs"  xml:space="preserve">4.73</text>
<text x="319.5" y="183.0" font-size="18" fill="#0000C8" font-weight="bold" font-style="italic" textLength="43.0" lengthAdjust="spacingAndGlyphs"  xml:space="preserve">17.44</text>
</g>
<g transform="translate(13,500)">
<rect x="-2.5" y="-2.5" width="384" height="192" fill="none" stroke="#fff" stroke-width="1"/>
<rect x="0" y="0" width="378" height="188" fill="#fff"/>
<rect x="239.2" y="1" width="84.0" height="10.5" fill="#6060F0"/>
<polygon points="9.0,164.8 9.0,132.8 10.0,133.3 18.8,136.0 29.3,138.5 39.8,142.7 52.4,145.4 65.0,146.5 86.0,147.3 94.3,148.0 106.9,145.9 115.3,141.7 123.7,136.4 132.1,128.0 140.5,119.6 148.9,111.2 157.3,103.9 165.4,95.5 173.8,88.1 181.1,81.8 186.4,79.7 190.6,73.5 195.8,71.4 198.3,61.9 200.0,65.0 202.1,60.9 206.3,45.1 210.5,31.5 214.7,22.7 217.9,22.7 220.0,31.5 223.1,42.0 227.3,50.4 230.5,44.1 234.2,40.9 237.8,44.1 239.9,49.3 240.3,50.0 240.3,164.8" fill="#8080B8" shape-rendering="crispEdges"/>
<path d="M34.50 6.0V164.8M60.50 6.0V164.8M113.50 6.0V164.8M139.50 6.0V164.8M191.50 6.0V164.8M217.50 6.0V164.8M270.50 6.0V164.8M296.50 6.0V164.8M8.5 22.50H323.0M8.5 37.50H323.0M8.5 53.50H323.0M8.5 69.50H323.0M8.5 101.50H323.0M8.5 117.50H323.0M8.5 133.50H323.0M8.5 149.50H323.0" stroke="#4a4a4a" stroke-width="1.00" fill="none"/>
<path d="M87.50 6.0V164.8M165.50 6.0V164.8M243.50 6.0V164.8M8.5 85.50H323.0" stroke="#404040" stroke-width="2.30" fill="none"/>
<path d="M9.05 6.0V164.8" stroke="#4a4a4a" stroke-width="1.10"/>
<rect x="319.3" y="47.3" width="9.6" height="117.5" fill="#B800B8"/>
<path d="M7.50 5.0V165.8" stroke="#000" stroke-width="1.90"/>
<path d="M322.4 5.0V165.8" stroke="#000" stroke-width="2.60"/>
<path d="M7 5.9H323.7" stroke="#000" stroke-width="1.50"/>
<path d="M7 165.3H323.7" stroke="#000" stroke-width="2.00"/>
<rect x="0" y="158.0" width="6" height="7.0" fill="#0000FF"/>
<text x="2.2" y="178.0" font-size="15.8" fill="#000" textLength="7.9" lengthAdjust="spacingAndGlyphs"  xml:space="preserve">0</text>
<text x="28.4" y="178.0" font-size="15.8" fill="#000" textLength="7.9" lengthAdjust="spacingAndGlyphs"  xml:space="preserve">2</text>
<text x="54.5" y="178.0" font-size="15.8" fill="#000" textLength="7.9" lengthAdjust="spacingAndGlyphs"  xml:space="preserve">4</text>
<text x="80.7" y="178.0" font-size="15.8" fill="#000" textLength="7.9" lengthAdjust="spacingAndGlyphs"  xml:space="preserve">6</text>
<text x="106.3" y="178.0" font-size="15.8" fill="#000" textLength="7.9" lengthAdjust="spacingAndGlyphs"  xml:space="preserve">8</text>
<text x="132.5" y="178.0" font-size="15.8" fill="#000" textLength="15.9" lengthAdjust="spacingAndGlyphs"  xml:space="preserve">10</text>
<text x="159.1" y="178.0" font-size="15.8" fill="#000" textLength="15.9" lengthAdjust="spacingAndGlyphs"  xml:space="preserve">12</text>
<text x="185.3" y="178.0" font-size="15.8" fill="#000" textLength="15.9" lengthAdjust="spacingAndGlyphs"  xml:space="preserve">14</text>
<text x="211.4" y="178.0" font-size="15.8" fill="#000" textLength="15.9" lengthAdjust="spacingAndGlyphs"  xml:space="preserve">16</text>
<text x="237.6" y="178.0" font-size="15.8" fill="#000" textLength="15.9" lengthAdjust="spacingAndGlyphs"  xml:space="preserve">18</text>
<text x="259.1" y="178.0" font-size="15.8" fill="#000" textLength="15.9" lengthAdjust="spacingAndGlyphs"  xml:space="preserve">20</text>
<text x="284.6" y="178.0" font-size="15.8" fill="#000" textLength="15.9" lengthAdjust="spacingAndGlyphs"  xml:space="preserve">22</text>
<text x="305.6" y="178.0" font-size="15.8" fill="#000" textLength="9.0" lengthAdjust="spacingAndGlyphs"  xml:space="preserve">h</text>
<text x="328.6" y="11.0" font-size="14" fill="#000" font-weight="bold" font-style="italic" textLength="31.5" lengthAdjust="spacingAndGlyphs"  xml:space="preserve">29.60</text>
<text x="328.6" y="26.8" font-size="14" fill="#999" font-style="italic" textLength="31.5" lengthAdjust="spacingAndGlyphs"  xml:space="preserve">27.14</text>
<text x="328.6" y="42.6" font-size="14" fill="#999" font-style="italic" textLength="31.5" lengthAdjust="spacingAndGlyphs"  xml:space="preserve">24.68</text>
<text x="328.6" y="58.4" font-size="14" fill="#999" font-style="italic" textLength="31.5" lengthAdjust="spacingAndGlyphs"  xml:space="preserve">22.23</text>
<text x="328.6" y="74.2" font-size="14" fill="#999" font-style="italic" textLength="31.5" lengthAdjust="spacingAndGlyphs"  xml:space="preserve">19.77</text>
<text x="328.6" y="90.0" font-size="14" fill="#000" font-weight="bold" font-style="italic" textLength="31.5" lengthAdjust="spacingAndGlyphs"  xml:space="preserve">17.32</text>
<text x="328.6" y="105.8" font-size="14" fill="#999" font-style="italic" textLength="31.5" lengthAdjust="spacingAndGlyphs"  xml:space="preserve">14.86</text>
<text x="328.6" y="121.6" font-size="14" fill="#999" font-style="italic" textLength="31.5" lengthAdjust="spacingAndGlyphs"  xml:space="preserve">12.40</text>
<text x="328.6" y="137.4" font-size="14" fill="#999" font-style="italic" textLength="24.5" lengthAdjust="spacingAndGlyphs"  xml:space="preserve">9.95</text>
<text x="328.6" y="153.2" font-size="14" fill="#999" font-style="italic" textLength="24.5" lengthAdjust="spacingAndGlyphs"  xml:space="preserve">7.49</text>
<text x="328.6" y="169.0" font-size="14" fill="#000" font-weight="bold" font-style="italic" textLength="24.5" lengthAdjust="spacingAndGlyphs"  xml:space="preserve">5.03</text>
<text x="319.5" y="183.0" font-size="18" fill="#0000C8" font-weight="bold" font-style="italic" textLength="43.0" lengthAdjust="spacingAndGlyphs"  xml:space="preserve">23.16</text>
</g>
<g transform="translate(418,500)">
<rect x="-2.5" y="-2.5" width="384" height="192" fill="none" stroke="#fff" stroke-width="1"/>
<rect x="0" y="0" width="378" height="188" fill="#fff"/>
<rect x="155.4" y="1" width="58.2" height="10.5" fill="#6060F0"/>
<rect x="239.2" y="1" width="84.0" height="10.5" fill="#6060F0"/>
<polygon points="9.0,164.8 9.0,125.0 9.0,123.0 11.5,123.0 11.5,127.0 14.0,127.0 15.7,126.0 15.7,76.5 16.4,76.5 16.4,74.5 17.7,74.5 17.7,87.4 18.5,87.4 18.5,111.6 19.3,111.6 19.3,131.0 20.3,131.0 20.3,127.0 22.3,127.0 22.3,127.0 23.8,127.0 23.8,127.0 26.8,127.0 27.9,128.0 27.9,81.3 28.6,81.3 28.6,79.3 29.9,79.3 29.9,91.5 30.7,91.5 30.7,114.4 31.5,114.4 31.5,136.0 32.5,136.0 32.5,134.0 34.5,134.0 34.5,133.0 36.5,133.0 36.5,135.0 38.0,135.0 38.0,132.0 40.5,132.0 40.5,133.0 40.5,84.9 41.2,84.9 41.2,82.9 42.5,82.9 42.5,95.4 43.3,95.4 43.3,119.0 44.1,119.0 44.1,137.0 45.1,137.0 45.1,137.0 47.1,137.0 47.1,131.0 50.1,131.0 50.1,131.5 52.6,131.5 52.6,134.0 52.6,88.0 53.3,88.0 53.3,86.0 54.6,86.0 54.6,98.0 55.4,98.0 55.4,120.6 56.2,120.6 56.2,141.0 57.2,141.0 57.2,141.0 59.7,141.0 59.7,138.0 61.2,138.0 61.2,138.0 63.2,138.0 64.6,138.0 64.6,90.8 65.3,90.8 65.3,88.8 66.6,88.8 66.6,101.1 67.4,101.1 67.4,124.2 68.2,124.2 68.2,143.0 69.2,143.0 69.2,140.0 70.7,140.0 70.7,140.0 73.7,140.0 73.7,137.5 75.7,137.5 76.6,140.0 76.6,90.8 77.3,90.8 77.3,88.8 78.6,88.8 78.6,101.6 79.4,101.6 79.4,125.7 80.2,125.7 80.2,145.0 81.2,145.0 81.2,142.0 84.2,142.0 84.2,142.0 87.2,142.0 88.7,142.0 88.7,92.9 89.4,92.9 89.4,90.9 90.7,90.9 90.7,103.7 91.5,103.7 91.5,127.7 92.3,127.7 92.3,145.0 93.3,145.0 93.3,144.0 95.8,144.0 95.8,142.0 98.8,142.0 100.7,142.0 100.7,92.9 101.4,92.9 101.4,90.9 102.7,90.9 102.7,103.7 103.5,103.7 103.5,127.7 104.3,127.7 104.3,146.0 105.3,146.0 105.3,143.0 108.3,143.0 108.3,146.0 110.8,146.0 110.8,140.5 113.3,140.5 113.3,143.0 113.3,90.8 114.0,90.8 114.0,88.8 115.3,88.8 115.3,102.3 116.1,102.3 116.1,127.8 116.9,127.8 116.9,143.0 117.9,143.0 117.9,143.0 120.9,143.0 120.9,140.0 123.4,140.0 124.8,140.0 124.8,84.9 125.5,84.9 125.5,82.9 126.8,82.9 126.8,97.2 127.6,97.2 127.6,124.0 128.4,124.0 128.4,138.0 129.4,138.0 129.4,132.5 131.9,132.5 131.9,137.0 133.9,137.0 133.9,132.0 136.4,132.0 136.6,135.0 136.6,77.1 137.3,77.1 137.3,75.1 138.6,75.1 138.6,90.1 139.4,90.1 139.4,118.2 140.2,118.2 140.2,133.0 141.2,133.0 141.2,127.5 143.7,127.5 143.7,132.0 146.2,132.0 146.2,133.0 148.7,133.0 149.0,130.0 149.0,71.7 149.7,71.7 149.7,69.7 151.0,69.7 151.0,84.8 151.8,84.8 151.8,113.1 152.6,113.1 152.6,129.0 153.6,129.0 152.5,128.0 152.5,124.0 154.5,124.0 154.5,121.0 155.8,121.0 155.8,164.8" fill="#8080B8" shape-rendering="crispEdges"/>
<polygon points="213.2,164.8 213.2,88.0 214.6,88.0 214.8,40.0 215.8,24.1 217.0,24.1 217.8,52.0 218.2,84.0 220.0,86.0 221.0,83.0 222.5,85.0 224.3,84.0 224.6,34.0 225.4,30.4 227.4,30.4 228.0,84.0 229.5,88.0 231.0,86.0 233.7,87.0 234.0,30.0 234.8,26.2 236.7,26.2 237.3,60.0 237.9,82.0 239.0,88.0 240.3,89.0 240.3,164.8" fill="#8080B8" shape-rendering="crispEdges"/>
<path d="M34.50 6.0V164.8M60.50 6.0V164.8M113.50 6.0V164.8M139.50 6.0V164.8M191.50 6.0V164.8M217.50 6.0V164.8M270.50 6.0V164.8M296.50 6.0V164.8M8.5 22.50H323.0M8.5 37.50H323.0M8.5 53.50H323.0M8.5 69.50H323.0M8.5 101.50H323.0M8.5 117.50H323.0M8.5 133.50H323.0M8.5 149.50H323.0" stroke="#4a4a4a" stroke-width="1.00" fill="none"/>
<path d="M87.50 6.0V164.8M165.50 6.0V164.8M243.50 6.0V164.8M8.5 85.50H323.0" stroke="#404040" stroke-width="2.30" fill="none"/>
<path d="M9.05 6.0V164.8" stroke="#4a4a4a" stroke-width="1.10"/>
<rect x="319.3" y="89.0" width="9.6" height="75.8" fill="#B800B8"/>
<path d="M7.50 5.0V165.8" stroke="#000" stroke-width="1.90"/>
<path d="M322.4 5.0V165.8" stroke="#000" stroke-width="2.60"/>
<path d="M7 5.9H323.7" stroke="#000" stroke-width="1.50"/>
<path d="M7 165.3H323.7" stroke="#000" stroke-width="2.00"/>
<rect x="0" y="157.5" width="6" height="7.5" fill="#0000FF"/>
<text x="2.2" y="178.0" font-size="15.8" fill="#000" textLength="7.9" lengthAdjust="spacingAndGlyphs"  xml:space="preserve">0</text>
<text x="28.4" y="178.0" font-size="15.8" fill="#000" textLength="7.9" lengthAdjust="spacingAndGlyphs"  xml:space="preserve">2</text>
<text x="54.5" y="178.0" font-size="15.8" fill="#000" textLength="7.9" lengthAdjust="spacingAndGlyphs"  xml:space="preserve">4</text>
<text x="80.7" y="178.0" font-size="15.8" fill="#000" textLength="7.9" lengthAdjust="spacingAndGlyphs"  xml:space="preserve">6</text>
<text x="106.3" y="178.0" font-size="15.8" fill="#000" textLength="7.9" lengthAdjust="spacingAndGlyphs"  xml:space="preserve">8</text>
<text x="132.5" y="178.0" font-size="15.8" fill="#000" textLength="15.9" lengthAdjust="spacingAndGlyphs"  xml:space="preserve">10</text>
<text x="159.1" y="178.0" font-size="15.8" fill="#000" textLength="15.9" lengthAdjust="spacingAndGlyphs"  xml:space="preserve">12</text>
<text x="185.3" y="178.0" font-size="15.8" fill="#000" textLength="15.9" lengthAdjust="spacingAndGlyphs"  xml:space="preserve">14</text>
<text x="211.4" y="178.0" font-size="15.8" fill="#000" textLength="15.9" lengthAdjust="spacingAndGlyphs"  xml:space="preserve">16</text>
<text x="237.6" y="178.0" font-size="15.8" fill="#000" textLength="15.9" lengthAdjust="spacingAndGlyphs"  xml:space="preserve">18</text>
<text x="259.1" y="178.0" font-size="15.8" fill="#000" textLength="15.9" lengthAdjust="spacingAndGlyphs"  xml:space="preserve">20</text>
<text x="284.6" y="178.0" font-size="15.8" fill="#000" textLength="15.9" lengthAdjust="spacingAndGlyphs"  xml:space="preserve">22</text>
<text x="305.6" y="178.0" font-size="15.8" fill="#000" textLength="9.0" lengthAdjust="spacingAndGlyphs"  xml:space="preserve">h</text>
<text x="328.6" y="11.0" font-size="14" fill="#000" font-weight="bold" font-style="italic" textLength="29.2" lengthAdjust="spacingAndGlyphs"  xml:space="preserve">-0.68</text>
<text x="328.6" y="26.8" font-size="14" fill="#999" font-style="italic" textLength="29.2" lengthAdjust="spacingAndGlyphs"  xml:space="preserve">-2.74</text>
<text x="328.6" y="42.6" font-size="14" fill="#999" font-style="italic" textLength="29.2" lengthAdjust="spacingAndGlyphs"  xml:space="preserve">-4.80</text>
<text x="328.6" y="58.4" font-size="14" fill="#999" font-style="italic" textLength="29.2" lengthAdjust="spacingAndGlyphs"  xml:space="preserve">-6.87</text>
<text x="328.6" y="74.2" font-size="14" fill="#999" font-style="italic" textLength="29.2" lengthAdjust="spacingAndGlyphs"  xml:space="preserve">-8.94</text>
<text x="328.6" y="90.0" font-size="14" fill="#000" font-weight="bold" font-style="italic" textLength="36.2" lengthAdjust="spacingAndGlyphs"  xml:space="preserve">-11.00</text>
<text x="328.6" y="105.8" font-size="14" fill="#999" font-style="italic" textLength="36.2" lengthAdjust="spacingAndGlyphs"  xml:space="preserve">-13.07</text>
<text x="328.6" y="121.6" font-size="14" fill="#999" font-style="italic" textLength="36.2" lengthAdjust="spacingAndGlyphs"  xml:space="preserve">-15.13</text>
<text x="328.6" y="137.4" font-size="14" fill="#999" font-style="italic" textLength="36.2" lengthAdjust="spacingAndGlyphs"  xml:space="preserve">-17.20</text>
<text x="328.6" y="153.2" font-size="14" fill="#999" font-style="italic" textLength="36.2" lengthAdjust="spacingAndGlyphs"  xml:space="preserve">-19.26</text>
<text x="328.6" y="169.0" font-size="14" fill="#000" font-weight="bold" font-style="italic" textLength="36.2" lengthAdjust="spacingAndGlyphs"  xml:space="preserve">-21.33</text>
<text x="319.5" y="183.0" font-size="18" fill="#0000C8" font-weight="bold" font-style="italic" textLength="40.2" lengthAdjust="spacingAndGlyphs"  xml:space="preserve">-11.5</text>
</g>
<rect x="580.5" y="710.5" width="240.0" height="133.0" fill="none" stroke="#fff" stroke-width="1"/>
<g transform="translate(582,712) scale(0.695)">
<rect x="0" y="0" width="378" height="188" fill="#fff"/>
<rect x="239.1" y="1" width="84.6" height="10.5" fill="#6060F0"/>
<polygon points="92.7,164.8 92.7,163.9 100.0,155.4 106.3,140.4 112.8,115.0 119.1,93.5 127.6,72.2 136.3,55.3 144.7,46.6 153.2,44.6 170.4,43.7 195.8,41.6 219.3,42.4 222.3,46.6 223.3,74.4 226.6,72.2 227.6,42.4 238.3,42.4 240.1,47.5 240.1,164.0 240.1,164.8" fill="#8080B8" shape-rendering="crispEdges"/>
<path d="M35.25 6.0V164.8M61.15 6.0V164.8M112.95 6.0V164.8M138.85 6.0V164.8M192.09 6.0V164.8M217.99 6.0V164.8M269.78 6.0V164.8M295.68 6.0V164.8M8.5 22.30H323.0M8.5 38.13H323.0M8.5 53.96H323.0M8.5 69.78H323.0M8.5 101.44H323.0M8.5 117.27H323.0M8.5 133.09H323.0M8.5 148.92H323.0" stroke="#4a4a4a" stroke-width="1.44" fill="none"/>
<path d="M87.05 6.0V164.8M166.19 6.0V164.8M243.88 6.0V164.8M8.5 85.61H323.0" stroke="#404040" stroke-width="3.31" fill="none"/>
<path d="M10.14 6.0V164.8" stroke="#4a4a4a" stroke-width="1.58"/>
<rect x="319.3" y="126.9" width="12.0" height="37.9" fill="#B800B8"/>
<path d="M7.91 5.0V165.8" stroke="#000" stroke-width="2.73"/>
<path d="M322.4 5.0V165.8" stroke="#000" stroke-width="3.74"/>
<path d="M7 5.9H323.7" stroke="#000" stroke-width="2.16"/>
<path d="M7 165.3H323.7" stroke="#000" stroke-width="2.88"/>
<rect x="0" y="162.9" width="6" height="2.1" fill="#0000FF"/>
<text x="2.2" y="178.0" font-size="16.5" fill="#000" textLength="7.9" lengthAdjust="spacingAndGlyphs"  xml:space="preserve">0</text>
<text x="28.4" y="178.0" font-size="16.5" fill="#000" textLength="7.9" lengthAdjust="spacingAndGlyphs"  xml:space="preserve">2</text>
<text x="54.5" y="178.0" font-size="16.5" fill="#000" textLength="7.9" lengthAdjust="spacingAndGlyphs"  xml:space="preserve">4</text>
<text x="80.7" y="178.0" font-size="16.5" fill="#000" textLength="7.9" lengthAdjust="spacingAndGlyphs"  xml:space="preserve">6</text>
<text x="106.3" y="178.0" font-size="16.5" fill="#000" textLength="7.9" lengthAdjust="spacingAndGlyphs"  xml:space="preserve">8</text>
<text x="132.5" y="178.0" font-size="16.5" fill="#000" textLength="15.9" lengthAdjust="spacingAndGlyphs"  xml:space="preserve">10</text>
<text x="159.1" y="178.0" font-size="16.5" fill="#000" textLength="15.9" lengthAdjust="spacingAndGlyphs"  xml:space="preserve">12</text>
<text x="185.3" y="178.0" font-size="16.5" fill="#000" textLength="15.9" lengthAdjust="spacingAndGlyphs"  xml:space="preserve">14</text>
<text x="211.4" y="178.0" font-size="16.5" fill="#000" textLength="15.9" lengthAdjust="spacingAndGlyphs"  xml:space="preserve">16</text>
<text x="237.6" y="178.0" font-size="16.5" fill="#000" textLength="15.9" lengthAdjust="spacingAndGlyphs"  xml:space="preserve">18</text>
<text x="259.1" y="178.0" font-size="16.5" fill="#000" textLength="15.9" lengthAdjust="spacingAndGlyphs"  xml:space="preserve">20</text>
<text x="284.6" y="178.0" font-size="16.5" fill="#000" textLength="15.9" lengthAdjust="spacingAndGlyphs"  xml:space="preserve">22</text>
<text x="307.6" y="178.0" font-size="16.5" fill="#000" textLength="9.0" lengthAdjust="spacingAndGlyphs"  xml:space="preserve">h</text>
<text x="328.6" y="11.0" font-size="14" fill="#000" font-weight="bold" font-style="italic" textLength="0.0" lengthAdjust="spacingAndGlyphs"  xml:space="preserve"></text>
<text x="328.6" y="26.8" font-size="14" fill="#999" font-style="italic" textLength="0.0" lengthAdjust="spacingAndGlyphs"  xml:space="preserve"></text>
<text x="328.6" y="42.6" font-size="14" fill="#999" font-style="italic" textLength="0.0" lengthAdjust="spacingAndGlyphs"  xml:space="preserve"></text>
<text x="328.6" y="58.4" font-size="14" fill="#999" font-style="italic" textLength="0.0" lengthAdjust="spacingAndGlyphs"  xml:space="preserve"></text>
<text x="328.6" y="74.2" font-size="14" fill="#999" font-style="italic" textLength="0.0" lengthAdjust="spacingAndGlyphs"  xml:space="preserve"></text>
<text x="328.6" y="90.0" font-size="14" fill="#000" font-weight="bold" font-style="italic" textLength="0.0" lengthAdjust="spacingAndGlyphs"  xml:space="preserve"></text>
<text x="328.6" y="105.8" font-size="14" fill="#999" font-style="italic" textLength="0.0" lengthAdjust="spacingAndGlyphs"  xml:space="preserve"></text>
<text x="328.6" y="121.6" font-size="14" fill="#999" font-style="italic" textLength="0.0" lengthAdjust="spacingAndGlyphs"  xml:space="preserve"></text>
<text x="328.6" y="137.4" font-size="14" fill="#999" font-style="italic" textLength="0.0" lengthAdjust="spacingAndGlyphs"  xml:space="preserve"></text>
<text x="328.6" y="153.2" font-size="14" fill="#999" font-style="italic" textLength="0.0" lengthAdjust="spacingAndGlyphs"  xml:space="preserve"></text>
<text x="328.6" y="169.0" font-size="14" fill="#000" font-weight="bold" font-style="italic" textLength="0.0" lengthAdjust="spacingAndGlyphs"  xml:space="preserve"></text>
<text x="319.7" y="183.0" font-size="18" fill="#0000C8" font-weight="bold" font-style="italic" textLength="34.2" lengthAdjust="spacingAndGlyphs"  xml:space="preserve">17.4</text>
</g>
<text x="61.5" y="714.8" font-size="19.5" fill="#0000FF" stroke="#0000FF" stroke-width="0.25" textLength="450.9" lengthAdjust="spacingAndGlyphs" xml:space="preserve">Удалённый мониторинг температуры (online).</text>
<text x="10.6" y="740.0" font-size="17.2" fill="#000" stroke="#000" stroke-width="0.25" textLength="337.0" lengthAdjust="spacingAndGlyphs" xml:space="preserve">Последний замер параметров произведён</text>
<text x="350.4" y="740.0" font-size="18.5" fill="#000" stroke="#000" stroke-width="0.25" textLength="150.6" lengthAdjust="spacingAndGlyphs" xml:space="preserve">04/03/26_17:39:26</text>
<text x="501.5" y="740.0" font-size="18.5" fill="#0000FF" stroke="#0000FF" stroke-width="0.25" textLength="64.5" lengthAdjust="spacingAndGlyphs" xml:space="preserve">(20 sec).</text>
<text x="10.6" y="759.7" font-size="17.2" fill="#000" stroke="#000" stroke-width="0.25" textLength="504.4" lengthAdjust="spacingAndGlyphs" xml:space="preserve">Измерения температуры  производятся с интервалом в 120 сек.</text>
<text x="10.6" y="779.6" font-size="17.2" fill="#000" stroke="#000" stroke-width="0.25" textLength="529.7" lengthAdjust="spacingAndGlyphs" xml:space="preserve">На данном рисунке графики отображают общее состояние. Более</text>
<text x="10.6" y="800.0" font-size="17.2" fill="#000" stroke="#000" stroke-width="0.25" textLength="532.4" lengthAdjust="spacingAndGlyphs" xml:space="preserve">детально параметры отображаются на отдельной группе страниц.</text>
<text x="10.6" y="824.0" font-size="19" fill="#000" stroke="#000" stroke-width="0.25" textLength="126.4" lengthAdjust="spacingAndGlyphs" xml:space="preserve">www.gr.vn.ua</text>
<text x="157.8" y="824.0" font-size="19" fill="#000" stroke="#000" stroke-width="0.25" textLength="60.8" lengthAdjust="spacingAndGlyphs" xml:space="preserve">e-mail:</text>
<text x="226.0" y="824.0" font-size="19" fill="#000" stroke="#000" stroke-width="0.25" textLength="175.6" lengthAdjust="spacingAndGlyphs" xml:space="preserve">grv2015@gmail.com</text>
</svg></body></html>
